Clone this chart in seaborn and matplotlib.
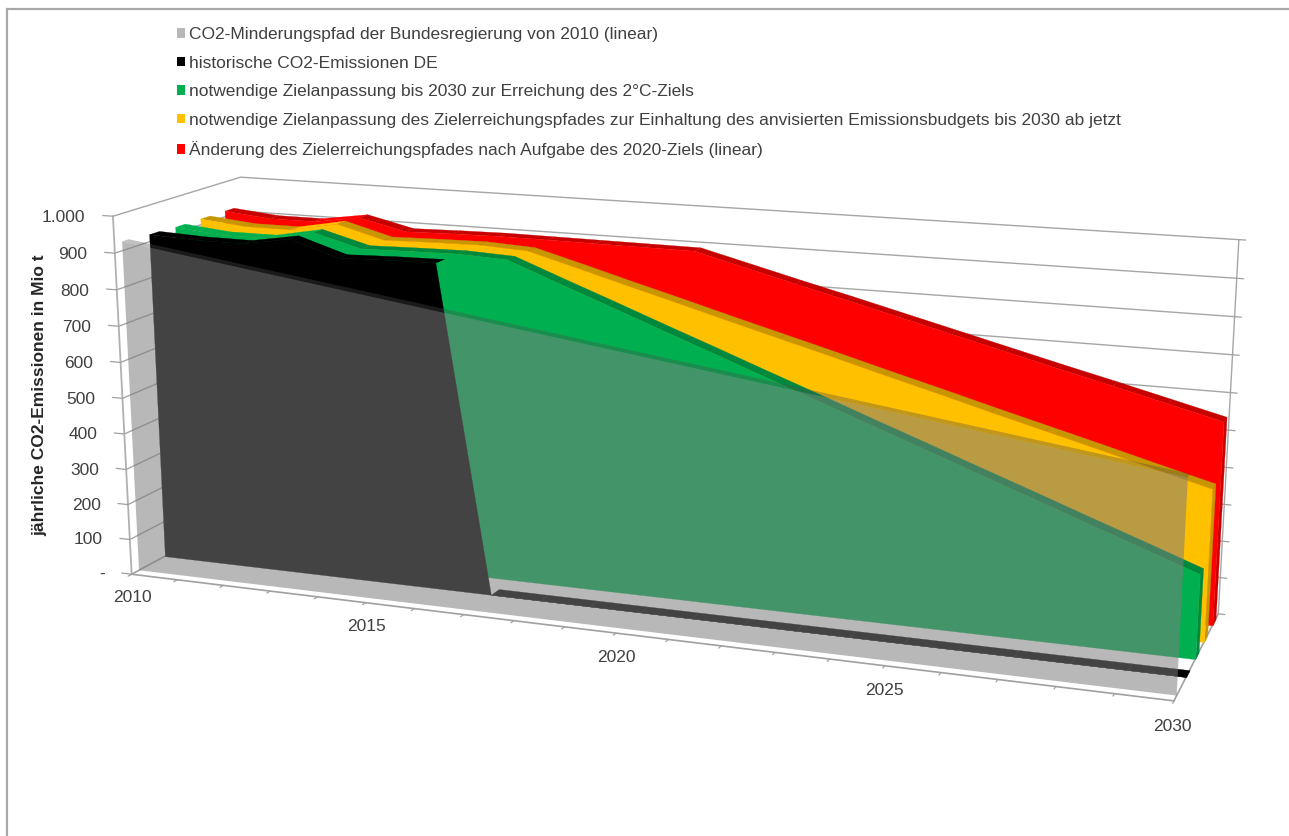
import numpy as np
import matplotlib
matplotlib.use('Agg')
import matplotlib.pyplot as plt
import seaborn as sns
from matplotlib.patches import Patch, Rectangle
from mpl_toolkits.mplot3d.art3d import Poly3DCollection

years = list(range(2010, 2031))
pfad_2010 = [925,906,887,868,849,830,811,792,773,754,735,716,697,678,659,640,621,602,583,564,545]
historisch = [921,915,914,936,894,898,900,0,0,0,0,0,0,0,0,0,0,0,0,0,0]
ziel_2grad = [918,905,905,930,894,897,899,893,841,790,738,687,635,584,532,481,429,378,326,275,223]
ziel_budget = [918,905,905,930,894,897,899,892,855,817,780,742,705,668,630,593,555,518,481,443,406]
aufgabe_2020 = [918,905,905,925,894,897,899,898,897,896,895,860,825,791,756,721,686,651,617,582,547]
labels = ['CO2-Minderungspfad der Bundesregierung von 2010 (linear)',
          'historische CO2-Emissionen DE',
          'notwendige Zielanpassung bis 2030 zur Erreichung des 2°C-Ziels',
          'notwendige Zielanpassung des Zielerreichungspfades zur Einhaltung des anvisierten Emissionsbudgets bis 2030 ab jetzt',
          'Änderung des Zielerreichungspfades nach Aufgabe des 2020-Ziels (linear)']
z_ticks = list(range(0, 1001, 100))
z_labels = ['-','100','200','300','400','500','600','700','800','900','1.000']
x_labels = [2010, 2015, 2020, 2025, 2030]
colors = sns.color_palette(['#7d7d7d', '#000000', '#00b050', '#ffc000', '#ff0000'])
legend_colors = ['#b8b8b8', '#000000', '#00b050', '#ffc000', '#ff0000']
series = [pfad_2010, historisch, ziel_2grad, ziel_budget, aufgabe_2020]

sns.set_theme(style='white')
plt.rcParams['font.family'] = ['Liberation Sans', 'DejaVu Sans']
W, H = 1289, 836
fig = plt.figure(figsize=(W/100, H/100), dpi=100, facecolor='white')
Z = 0.8
S, cx, cy = 1140.716/Z, 662.345, 413.864
ax = fig.add_axes([(cx-.095/.185*S)/W, (H-cy-.095/.185*S)/H, S/W, S/H], projection='3d', computed_zorder=False)
ax.set_xlim(2010, 2030, view_margin=0)
ax.set_ylim(0, 5, view_margin=0)
ax.set_zlim(0, 1000, view_margin=0)
ax.view_init(elev=14.319, azim=-69.793, roll=0)
ax.set_proj_type('persp', focal_length=0.427*Z)
ax.set_box_aspect((1.59, 0.384, 0.555), zoom=Z)
ax.set_axis_off()

LINE = '#a6a6a6'
def line(xs, ys, zs, c=LINE, lw=1.0, zo=1):
    ax.plot(xs, ys, zs, color=c, lw=lw, zorder=zo, solid_capstyle='round')

for z in z_ticks[1:]:
    line([2010, 2010, 2030], [0, 5, 5], [z, z, z])
line([2010, 2010], [0, 0], [0, 1000], c='#b0b0b0', lw=1.3)
line([2010, 2030], [0, 0], [0, 0], c='#a0a0a0', lw=1.2)
line([2030, 2030], [0, 5], [0, 0], c='#a0a0a0', lw=1.2)
line([2010, 2010], [0, 5], [0, 0], c='#a0a0a0', lw=1.2)
line([2030, 2030], [5, 5], [0, 1000], c='#a6a6a6', lw=1.0)
for yr in years:
    line([yr, yr], [0, -0.13], [0, 0], c='#a0a0a0', lw=0.9)
for z in z_ticks:
    line([2010, 2009.78], [0, 0], [z, z], c='#a0a0a0', lw=0.9)
    line([2030, 2030.12], [5, 5], [z, z], c='#a0a0a0', lw=0.9)

def darker(c, f):
    return tuple(v*f for v in c[:3])

front = [0.28, 1.28, 2.28, 3.28, 4.28]
depth = 0.38
zo = 10
for i in (4, 3, 2, 1):
    v, c, y0, y1 = series[i], colors[i], front[i], front[i]+depth
    dark = darker(c, 0.78)
    for k in range(len(years)-1):
        if i == 1 and v[k] > 0 and v[k+1] == 0:
            continue
        q = [(years[k], y0, v[k]), (years[k+1], y0, v[k+1]), (years[k+1], y1, v[k+1]), (years[k], y1, v[k])]
        lit = v[k+1] > v[k] + 4 or (i == 2 and k < 3)
        col = c if lit else dark
        ax.add_collection3d(Poly3DCollection([q], facecolors=[col], edgecolors=[col], linewidths=0.2, zorder=zo), autolim=False)
    cap = [(2030, y0, 0), (2030, y1, 0), (2030, y1, v[-1]), (2030, y0, v[-1])]
    ax.add_collection3d(Poly3DCollection([cap], facecolors=[dark], edgecolors=[dark], linewidths=0.2, zorder=zo+1), autolim=False)
    face = [(x, y0, z) for x, z in zip(years, v)] + [(2030, y0, 0), (2010, y0, 0)]
    ax.add_collection3d(Poly3DCollection([face], facecolors=[c], edgecolors=[c], linewidths=0.2, zorder=zo+2), autolim=False)
    zo += 5

v, y0, y1 = series[0], front[0], front[0]+0.25
strip = [(x, y0, z) for x, z in zip(years, v)] + [(x, y1, z) for x, z in zip(years[::-1], v[::-1])]
ax.add_collection3d(Poly3DCollection([strip], facecolors=[(.30, .30, .30, .35)], edgecolors='none', linewidths=0, zorder=zo), autolim=False)
face = [(x, y0, z) for x, z in zip(years, v)] + [(2030, y0, 0), (2010, y0, 0)]
ax.add_collection3d(Poly3DCollection([face], facecolors=[(*colors[0], .545)], edgecolors='none', linewidths=0, zorder=zo+1), autolim=False)

txtc = '#404040'
for z, s in zip(z_ticks, z_labels):
    ax.text(2009.4, 0, z-10, s, ha='right', va='center', fontsize=12.5, color=txtc)
for x in x_labels:
    ax.text(x, 0, -66, str(x), ha='center', va='center', fontsize=12.5, color=txtc)

fig.text(40/W, 1-395/H, 'jährliche CO2-Emissionen in Mio t', rotation=90, ha='center', va='center', fontsize=12.5, fontweight='bold', color='#262626')
handles = [Patch(facecolor=c, edgecolor='none') for c in legend_colors]
fig.legend(handles, labels, loc='upper left', bbox_to_anchor=(177/W, 1-27/H), frameon=False, fontsize=12.5,
           handlelength=0.46, handleheight=0.46, handletextpad=0.23, labelspacing=0.78, labelcolor=txtc, borderpad=0, borderaxespad=0)
fig.add_artist(Rectangle((7/W, -0.05), 1.1, 1-9/H+0.05, transform=fig.transFigure, fill=False, edgecolor='#a8a8a8', lw=1.6))
fig.savefig('out.png', dpi=100, facecolor='white')
